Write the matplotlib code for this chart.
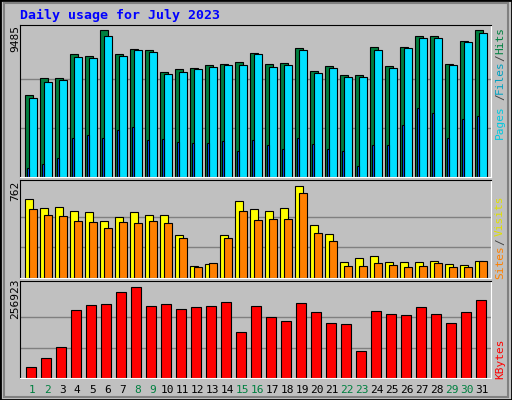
import matplotlib
matplotlib.use('Agg')
import matplotlib.pyplot as plt
from matplotlib.patches import Rectangle

days = list(range(1, 32))
hits = [5300, 6395, 6395, 7940, 7811, 9485, 7940, 8262, 8198, 6781, 6974, 7039, 7232, 7296, 7425, 8004,
        7296, 7361, 8326, 6845, 7167, 6588, 6588, 8390, 7167, 8390, 9099, 9099, 7296, 8777, 9485]
files = [5107, 6137, 6266, 7747, 7682, 9099, 7811, 8198, 8069, 6652, 6781, 6974, 7103, 7232, 7232, 7940,
         7103, 7232, 8198, 6717, 7039, 6459, 6459, 8198, 7039, 8326, 8970, 8970, 7232, 8712, 9292]
pages = [601, 858, 1245, 2532, 2725, 2532, 3047, 3240, 2403, 2468, 2275, 2210, 2210, 2339, 1695, 2403,
         2082, 1824, 2532, 2146, 1824, 1695, 730, 2082, 2082, 3369, 4464, 4142, 2532, 3755, 3949]
visits = [654, 580, 588, 555, 547, 472, 505, 547, 522, 522, 356, 99, 116, 356, 638, 572,
          555, 580, 762, 439, 364, 133, 166, 182, 133, 133, 133, 141, 116, 108, 141]
sites = [572, 522, 514, 472, 464, 414, 464, 456, 472, 456, 331, 91, 124, 331, 555, 480,
         489, 489, 704, 373, 306, 99, 99, 124, 108, 91, 99, 124, 91, 91, 141]
kbytes = [31882, 57200, 88144, 192229, 206294, 209107, 242864, 256923, 203481, 209107, 195042,
          200668, 203481, 214733, 130340, 203481, 172537, 161284, 211920, 186602, 155658, 152846,
          76891, 189415, 180976, 178163, 200668, 180976, 155658, 186602, 220360]
weekend = [1, 2, 8, 9, 15, 16, 22, 23, 29, 30]

W, H = 512, 400
BG = '#C0C0C0'
fig = plt.figure(figsize=(W / 100, H / 100), dpi=100)
fig.patch.set_facecolor(BG)
plt.rcParams['font.family'] = 'DejaVu Sans Mono'

# outer border + bevel
fig.patches.append(Rectangle((0, 0), 1, 1, transform=fig.transFigure, fill=False, ec='black', lw=2))
fig.patches.append(Rectangle((4 / W, 3 / H), (W - 8) / W, (H - 6) / H, transform=fig.transFigure,
                             fill=False, ec='#808080', lw=1.5))


def px(x0, y0, x1, y1):
    return [x0 / W, 1 - y1 / H, (x1 - x0) / W, (y1 - y0) / H]


def panel(y0, y1, ymax, maxpix):
    ax = fig.add_axes(px(20, y0, 491, y1))
    ax.set_facecolor(BG)
    ax.set_xlim(0.147, 31.547)
    ax.set_ylim(0, ymax * (y1 - y0) / maxpix)
    for g in (ymax / 3, ymax * 2 / 3):
        ax.axhline(g, color='#808080', lw=1, zorder=0)
    ax.set_xticks([])
    ax.set_yticks([])
    for s in ax.spines.values():
        s.set_color('black')
    ax.spines['bottom'].set_color('white')
    ax.spines['right'].set_color('white')
    return ax


kw = dict(align='edge', edgecolor='black', linewidth=0.8)

ax1 = panel(25, 177, max(hits), 147.5)
ax1.bar([d - 0.5 for d in days], hits, width=0.51, color='#008040', **kw)
ax1.bar([d - 0.233 for d in days], files, width=0.49, color='#00E0FF', **kw)
ax1.bar([d - 0.39 for d in days], pages, width=0.13, color='#0050FF', **kw)

ax2 = panel(180, 278, max(visits), 92)
ax2.bar([d - 0.5 for d in days], visits, width=0.51, color='#FFFF00', **kw)
ax2.bar([d - 0.233 for d in days], sites, width=0.49, color='#FF8000', **kw)

ax3 = panel(281, 378, max(kbytes), 91.5)
ax3.bar([d - 0.433 for d in days], kbytes, width=0.67, color='#FF0000', **kw)

for d in days:
    fig.text((25.3 + 15 * (d - 1) + 7) / W, 1 - 390 / H, str(d), ha='center', va='center', fontsize=8,
             color='#008040' if d in weekend else 'black')

fig.text(20 / W, 1 - 15 / H, 'Daily usage for July 2023', color='#0000FF', fontsize=9.5,
         fontweight='bold', va='center', ha='left')

for txt, yc in [('9485', 39), ('762', 191), ('256923', 299)]:
    fig.text(15 / W, 1 - yc / H, txt, rotation=90, ha='center', va='center', fontsize=8)

right = [('Hits', 40, '#008040'), ('/', 58, '#404040'), ('Files', 77, '#00A0C0'), ('/', 97, '#404040'),
         ('Pages', 122, '#00C8E0'), ('Visits', 216, '#E0E000'), ('/', 242, '#404040'),
         ('Sites', 262, '#FF8000'), ('KBytes', 359, '#FF0000')]
for txt, yc, c in right:
    fig.text(500 / W, 1 - yc / H, txt, rotation=90, ha='center', va='center', fontsize=8, color=c)

fig.savefig('out.png', dpi=100, facecolor=BG)
